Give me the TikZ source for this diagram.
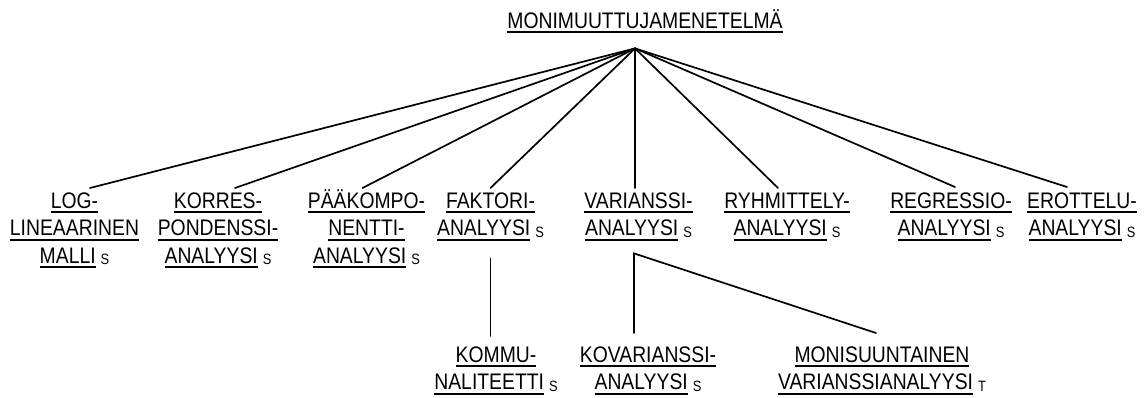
\documentclass[tikz,border=0pt]{standalone}
\usepackage{fontspec}
\setmainfont{Liberation Sans}[FakeStretch=0.86]
\usetikzlibrary{calc}

% underlined word, rule drawn just below the baseline
\newcommand\ulword[1]{\setbox0\hbox{#1}\rlap{\rule[-5pt]{\wd0}{2pt}}\box0}
% small trailing marker letter (S, T)
\newcommand\idx[1]{\hspace{5pt}\raisebox{-1.5pt}{\fontsize{15}{15}\selectfont #1}}
% fixed first-line height so every node top sits the same way
\newcommand\firstline{\rule{0pt}{22pt}}

\tikzset{
  term/.style={align=center, inner sep=0pt, anchor=north,
               font=\fontsize{22.5}{27.5}\selectfont},
  link/.style={line width=1.7pt, line cap=round}
}

\begin{document}
\begin{tikzpicture}[x=1pt,y=-1pt]
\useasboundingbox (0,0) rectangle (1148,398);

% root
\node[term] (title) at (645,6) {\firstline\ulword{MONIMUUTTUJAMENETELMÄ}};
\coordinate (apex) at ($(title.south)+(-10,15)$);

% first level
\node[term] (log) at (74.5,186) {\firstline\ulword{LOG-}\\\ulword{LINEAARINEN}\\\ulword{MALLI}\idx{S}};
\node[term] (korres) at (218,186) {\firstline\ulword{KORRES-}\\\ulword{PONDENSSI-}\\\ulword{ANALYYSI}\idx{S}};
\node[term] (paa) at (366.5,186) {\firstline\ulword{PÄÄKOMPO-}\\\ulword{NENTTI-}\\\ulword{ANALYYSI}\idx{S}};
\node[term] (faktori) at (490.5,186) {\firstline\ulword{FAKTORI-}\\\ulword{ANALYYSI}\idx{S}};
\node[term] (varianssi) at (638.5,186) {\firstline\ulword{VARIANSSI-}\\\ulword{ANALYYSI}\idx{S}};
\node[term] (ryhm) at (787,186) {\firstline\ulword{RYHMITTELY-}\\\ulword{ANALYYSI}\idx{S}};
\node[term] (regr) at (951,186) {\firstline\ulword{REGRESSIO-}\\\ulword{ANALYYSI}\idx{S}};
\node[term] (erot) at (1082,186) {\firstline\ulword{EROTTELU-}\\\ulword{ANALYYSI}\idx{S}};

% second level
\node[term] (kommu) at (496,340) {\firstline\ulword{KOMMU-}\\\ulword{NALITEETTI}\idx{S}};
\node[term] (kovar) at (648,340) {\firstline\ulword{KOVARIANSSI-}\\\ulword{ANALYYSI}\idx{S}};
\node[term] (moni) at (882,340) {\firstline\ulword{MONISUUNTAINEN}\\\ulword{VARIANSSIANALYYSI}\idx{T}};

% root to first level
\draw[link] (apex) -- ($(log.north)+(15.5,2)$);
\draw[link] (apex) -- ($(korres.north)+(17,2)$);
\draw[link] (apex) -- ($(paa.north)+(-4,2)$);
\draw[link] (apex) -- ($(faktori.north)+(0,2)$);
\draw[link] (apex) -- ($(varianssi.north)+(-3.5,2)$);
\draw[link] (apex) -- ($(ryhm.north)+(-9,2)$);
\draw[link] (apex) -- ($(regr.north)+(4,1)$);
\draw[link] (apex) -- ($(erot.north)+(-15,1)$);

% first level to second level
\coordinate (fbr) at ($(faktori.south)+(0,17.5)$);
\draw[link] (fbr) -- ($(kommu.north -| fbr)+(0,-4)$);
\coordinate (vbr) at ($(varianssi.south)+(-4.5,12.5)$);
\draw[link] ($(kovar.north -| vbr)+(0,-7)$) -- (vbr) -- ($(moni.north)+(-6,-7)$);
\end{tikzpicture}
\end{document}
